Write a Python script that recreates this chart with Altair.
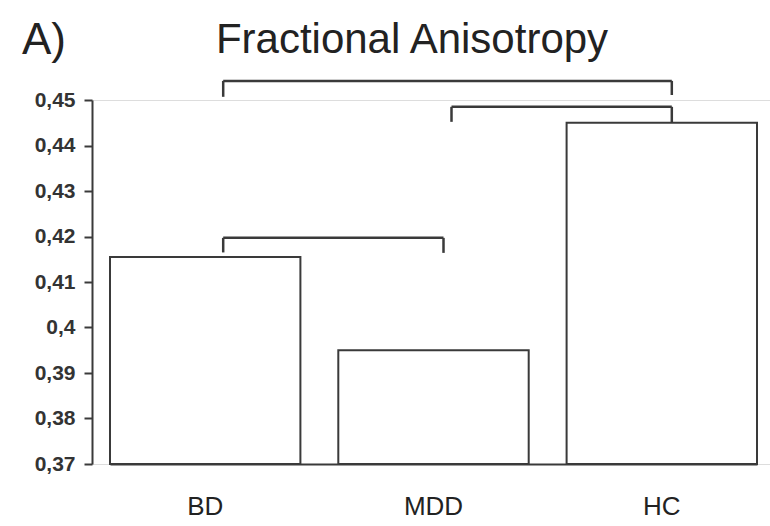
import altair as alt
import pandas as pd

groups = ["BD", "MDD", "HC"]
fa_values = [0.4155, 0.395, 0.445]
axis_min = 0.37
axis_max = 0.45
y_ticks = [0.37, 0.38, 0.39, 0.40, 0.41, 0.42, 0.43, 0.44, 0.45]

br_left = ["BD", "MDD", "BD"]
br_right = ["HC", "HC", "MDD"]
br_top = [0.4542, 0.4485, 0.4197]
br_left_bottom = [0.4507, 0.4452, 0.4165]
br_right_bottom = [0.4511, 0.445, 0.4164]

panel_label = "A)"
title_text = "Fractional Anisotropy"

bars = pd.DataFrame({"group": groups, "fa": fa_values, "base": [axis_min] * len(groups)})
brackets = pd.DataFrame({
    "left": br_left, "right": br_right, "top": br_top,
    "lb": br_left_bottom, "rb": br_right_bottom,
})

LINE = "#3a3a3a"
FONT = "Liberation Sans"

xscale = alt.Scale(domain=groups, range=[18, 665], paddingInner=0.166, paddingOuter=0)
yscale = alt.Scale(domain=[axis_min, axis_max], nice=False, zero=False)

bar_layer = alt.Chart(bars).mark_bar(
    fill="white", stroke=LINE, strokeWidth=2
).encode(
    x=alt.X("group:N", scale=xscale, sort=groups,
            axis=alt.Axis(title=None, labelAngle=0, ticks=False, labelFontSize=26,
                          labelFont=FONT, labelColor="#222", labelPadding=29,
                          domainColor=LINE, domainWidth=2)),
    y=alt.Y("fa:Q", scale=yscale,
            axis=alt.Axis(title=None, values=y_ticks, grid=False,
                          labelExpr="replace(format(datum.value, '.2~f'), '.', ',')",
                          labelFontSize=21, labelFontWeight="bold", labelFont=FONT,
                          labelColor="#333", tickSize=8, tickWidth=2, tickColor=LINE,
                          domainColor=LINE, domainWidth=2, labelPadding=9)),
    y2="base:Q",
)

hline = alt.Chart(brackets).mark_rule(
    color=LINE, strokeWidth=2.5, xOffset=18, x2Offset=10
).encode(
    x=alt.X("left:N", scale=xscale, sort=groups),
    x2="right:N",
    y=alt.Y("top:Q", scale=yscale),
)
lleg = alt.Chart(brackets).mark_rule(
    color=LINE, strokeWidth=2.5, xOffset=18
).encode(
    x=alt.X("left:N", scale=xscale, sort=groups),
    y=alt.Y("top:Q", scale=yscale),
    y2="lb:Q",
)
rleg = alt.Chart(brackets).mark_rule(
    color=LINE, strokeWidth=2.5, xOffset=10
).encode(
    x=alt.X("right:N", scale=xscale, sort=groups),
    y=alt.Y("top:Q", scale=yscale),
    y2="rb:Q",
)

labels = pd.DataFrame({"txt": [panel_label, title_text]})
panel = alt.Chart(labels).transform_filter(
    alt.datum.txt == panel_label
).mark_text(
    font=FONT, fontSize=44, color="#222", align="center", baseline="middle"
).encode(text="txt:N", x=alt.value(-48), y=alt.value(-59))

title_mark = alt.Chart(labels).transform_filter(
    alt.datum.txt == title_text
).mark_text(
    font=FONT, fontSize=42, color="#222", align="center", baseline="middle"
).encode(text="txt:N", x=alt.value(320), y=alt.value(-60))

chart = alt.layer(bar_layer, hline, lleg, rleg, panel, title_mark).properties(
    width=678, height=364,
    autosize=alt.AutoSizeParams(type="none"),
    padding={"left": 92, "top": 100, "right": 0, "bottom": 62},
).configure_view(stroke=None).configure(background="white")

chart.save("out.html", embed_options={"renderer": "svg", "actions": False})
